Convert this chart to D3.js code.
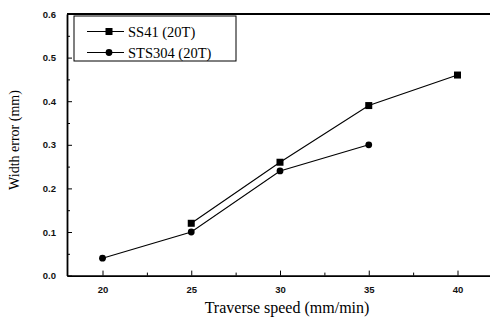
<!DOCTYPE html>
<html>
<head>
<meta charset="utf-8">
<script src="https://cdn.jsdelivr.net/npm/d3@7"></script>
<style>
  body { margin: 0; background: #fff; }
  svg { display: block; }
  .tick text { font-family: "Liberation Sans", Arial, sans-serif; font-weight: bold; font-size: 9.5px; fill: #111; }
</style>
</head>
<body>
<div id="root"></div>
<script>
const speeds = [20, 25, 30, 35, 40]
const ss41Speeds = [25, 30, 35, 40]
const ss41Errors = [0.12, 0.26, 0.39, 0.46]
const sts304Speeds = [20, 25, 30, 35]
const sts304Errors = [0.04, 0.10, 0.24, 0.30]
const yTicks = [0.0, 0.1, 0.2, 0.3, 0.4, 0.5, 0.6]
const xMinorTicks = [22.5, 27.5, 32.5, 37.5]
const yMinorTicks = [0.05, 0.15, 0.25, 0.35, 0.45, 0.55]
const seriesNames = ['SS41 (20T)', 'STS304 (20T)']

const WIDTH = 490
const HEIGHT = 320
const LEFT = 67
const RIGHT = 493
const TOP = 14
const BOTTOM = 275.6

const svg = d3.select('#root')
    .append('svg')
    .attr('width', WIDTH)
    .attr('height', HEIGHT)

const xScale = d3.scaleLinear().domain([18, 42]).range([LEFT, RIGHT])
const yScale = d3.scaleLinear().domain([0, 0.6]).range([BOTTOM, TOP])

// minor ticks (inward)
svg.append('g')
    .attr('transform', `translate(0,${BOTTOM})`)
    .call(d3.axisBottom(xScale).tickValues(xMinorTicks).tickSize(-3).tickFormat(''))
    .call(g => g.select('.domain').remove())

svg.append('g')
    .attr('transform', `translate(${LEFT},0)`)
    .call(d3.axisLeft(yScale).tickValues(yMinorTicks).tickSize(-3).tickFormat(''))
    .call(g => g.select('.domain').remove())

const xAxis = svg.append('g')
    .attr('transform', `translate(0,${BOTTOM})`)
    .call(d3.axisBottom(xScale).tickValues(speeds).tickSizeInner(-5).tickSizeOuter(0).tickPadding(11))
xAxis.select('.domain').attr('stroke-width', 1.8)

const yAxis = svg.append('g')
    .attr('transform', `translate(${LEFT},0)`)
    .call(d3.axisLeft(yScale).tickValues(yTicks).tickSizeInner(-5).tickSizeOuter(0).tickPadding(11).tickFormat(d3.format('.1f')))
yAxis.select('.domain').attr('stroke-width', 1.8)

// top frame line
svg.append('line')
    .attr('x1', LEFT).attr('x2', RIGHT)
    .attr('y1', TOP).attr('y2', TOP)
    .attr('stroke', '#000').attr('stroke-width', 1.8)

const line = d3.line().x(d => xScale(d[0])).y(d => yScale(d[1]))

const ss41 = ss41Speeds.map((s, i) => [s, ss41Errors[i]])
const sts304 = sts304Speeds.map((s, i) => [s, sts304Errors[i]])

svg.append('path').datum(ss41).attr('d', line)
    .attr('fill', 'none').attr('stroke', '#000').attr('stroke-width', 1.1)
svg.append('path').datum(sts304).attr('d', line)
    .attr('fill', 'none').attr('stroke', '#000').attr('stroke-width', 1.1)

svg.selectAll('rect.ss41').data(ss41).enter().append('rect')
    .attr('class', 'ss41')
    .attr('x', d => xScale(d[0]) - 3.5)
    .attr('y', d => yScale(d[1]) - 3.5)
    .attr('width', 7).attr('height', 7)
    .attr('fill', '#000')

svg.selectAll('circle.sts304').data(sts304).enter().append('circle')
    .attr('class', 'sts304')
    .attr('cx', d => xScale(d[0]))
    .attr('cy', d => yScale(d[1]))
    .attr('r', 3.4)
    .attr('fill', '#000')

// legend
const legend = svg.append('g').attr('transform', 'translate(74,16)')
legend.append('rect')
    .attr('width', 162).attr('height', 45)
    .attr('fill', '#fff').attr('stroke', '#000').attr('stroke-width', 1)

seriesNames.forEach((name, i) => {
    const y = 15.5 + i * 21
    legend.append('line')
        .attr('x1', 13).attr('x2', 50).attr('y1', y).attr('y2', y)
        .attr('stroke', '#000').attr('stroke-width', 1.1)
    if (i === 0) {
        legend.append('rect').attr('x', 31.5).attr('y', y - 3.5).attr('width', 7).attr('height', 7).attr('fill', '#000')
    } else {
        legend.append('circle').attr('cx', 35).attr('cy', y).attr('r', 3.4).attr('fill', '#000')
    }
    legend.append('text')
        .attr('x', 54).attr('y', y + 5)
        .attr('font-family', '"Liberation Serif", "Times New Roman", serif')
        .attr('font-size', 14.5)
        .text(name)
})

// axis titles
svg.append('text')
    .attr('x', 287).attr('y', 313)
    .attr('text-anchor', 'middle')
    .attr('font-family', '"Liberation Serif", "Times New Roman", serif')
    .attr('font-size', 16)
    .text('Traverse speed (mm/min)')

svg.append('text')
    .attr('transform', 'translate(19,140) rotate(-90)')
    .attr('text-anchor', 'middle')
    .attr('font-family', '"Liberation Serif", "Times New Roman", serif')
    .attr('font-size', 14)
    .text('Width error (mm)')
</script>
</body>
</html>
